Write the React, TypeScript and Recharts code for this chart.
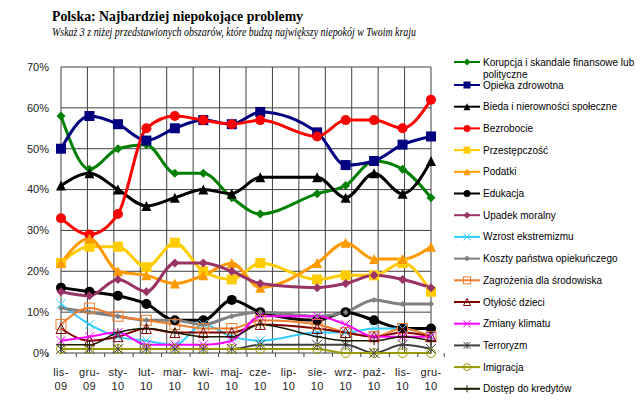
import React from 'react'
import { LineChart, Line, XAxis, YAxis, CartesianGrid, Legend } from 'recharts'

const months = ['lis-09', 'gru-09', 'sty-10', 'lut-10', 'mar-10', 'kwi-10', 'maj-10', 'cze-10', 'lip-10', 'sie-10', 'wrz-10', 'paź-10', 'lis-10', 'gru-10']

const korupcja = [58, 45, 50, 51, 44, 44, 38, 34, null, 39, 41, 47, 45, 38]
const opieka = [50, 58, 56, 52, 55, 57, 56, 59, null, 54, 46, 47, 51, 53]
const bieda = [41, 44, 40, 36, 38, 40, 39, 43, null, 43, 38, 44, 39, 47]
const bezrobocie = [33, 29, 34, 55, 58, 57, 56, 57, null, 53, 57, 57, 55, 62]
const przestepczosc = [22, 26, 26, 21, 27, 20, 18, 22, null, 18, 19, 19, 22, 15]
const podatki = [22, 28, 20, 19, 17, 19, 22, 16, null, 22, 27, 23, 23, 26]
const edukacja = [16, 15, 14, 12, 8, 8, 13, 10, null, 8, 10, 8, 6, 6]
const upadek = [15, 14, 18, 15, 22, 22, 20, 17, null, 16, 17, 19, 18, 16]
const ekstremizm = [12, 7, 4, 3, 2, 7, 4, 3, null, 5, 5, 6, 6, 4]
const koszty = [11, 10, 9, 8, 8, 7, 9, 10, null, 9, 10, 13, 12, 12]
const srodowisko = [7, 11, 9, 8, 7, 6, 6, 8, null, 7, 5, 4, 6, 4]
const otylosc = [6, 3, 4, 6, 5, 5, 5, 7, null, 6, 5, 4, 5, 4]
const klimat = [3, 4, 5, 2, 2, 2, 3, 9, null, 9, 7, 4, 4, 4]
const terroryzm = [1, 1, 1, 1, 1, 1, 1, 2, null, 2, 2, 0, 2, 1]
const imigracja = [1, 1, 1, 1, 1, 1, 1, 1, null, 1, 0, 0, 0, 0]
const kredyty = [2, 2, 5, 6, 5, 4, 4, 7, null, 4, 3, 3, 4, 3]

const yTicks = [0, 10, 20, 30, 40, 50, 60, 70]

const series = [
  { key: 'k1', name: ['Korupcja i skandale finansowe lub', 'polityczne'], values: korupcja, color: '#008000', w: 3, mark: 'diamond', size: 9 },
  { key: 'k2', name: ['Opieka zdrowotna'], values: opieka, color: '#000080', w: 3, mark: 'square', size: 10 },
  { key: 'k3', name: ['Bieda i nierowności społeczne'], values: bieda, color: '#000000', w: 3, mark: 'triangle', size: 10 },
  { key: 'k4', name: ['Bezrobocie'], values: bezrobocie, color: '#ff0000', w: 3, mark: 'circle', size: 10 },
  { key: 'k5', name: ['Przestępczość'], values: przestepczosc, color: '#ffcc00', w: 3, mark: 'square', size: 10 },
  { key: 'k6', name: ['Podatki'], values: podatki, color: '#ff9900', w: 3, mark: 'triangle', size: 10 },
  { key: 'k7', name: ['Edukacja'], values: edukacja, color: '#000000', w: 3, mark: 'circle', size: 10 },
  { key: 'k8', name: ['Upadek moralny'], values: upadek, color: '#993366', w: 3, mark: 'diamond', size: 9 },
  { key: 'k9', name: ['Wzrost ekstremizmu'], values: ekstremizm, color: '#33ccff', w: 2, mark: 'x', size: 9 },
  { key: 'k10', name: ['Koszty państwa opiekuńczego'], values: koszty, color: '#808080', w: 3, mark: 'diamond', size: 6 },
  { key: 'k11', name: ['Zagrożenia dla środowiska'], values: srodowisko, color: '#f07f30', w: 2, mark: 'osquare', size: 10 },
  { key: 'k12', name: ['Otyłość dzieci'], values: otylosc, color: '#800000', w: 2, mark: 'otriangle', size: 10 },
  { key: 'k13', name: ['Zmiany klimatu'], values: klimat, color: '#ff00ff', w: 2, mark: 'x', size: 9 },
  { key: 'k14', name: ['Terroryzm'], values: terroryzm, color: '#404040', w: 2, mark: 'asterisk', size: 10 },
  { key: 'k15', name: ['Imigracja'], values: imigracja, color: '#999900', w: 2, mark: 'ocircle', size: 9 },
  { key: 'k16', name: ['Dostęp do kredytów'], values: kredyty, color: '#1a1a00', w: 1.5, mark: 'plus', size: 9 },
]

const rows = months.map((m, i) => {
  const row: any = { month: m }
  series.forEach(s => { row[s.key] = s.values[i] })
  return row
})

function marker(kind: string, color: string, s: number, cx: number, cy: number) {
  const h = s / 2
  switch (kind) {
    case 'square':
      return <rect x={cx - h} y={cy - h} width={s} height={s} fill={color} />
    case 'osquare':
      return <rect x={cx - h} y={cy - h} width={s} height={s} fill="none" stroke={color} strokeWidth={1} />
    case 'circle':
      return <circle cx={cx} cy={cy} r={h} fill={color} />
    case 'ocircle':
      return <circle cx={cx} cy={cy} r={h} fill="none" stroke={color} strokeWidth={1} />
    case 'diamond':
      return <polygon points={`${cx},${cy - h} ${cx + h},${cy} ${cx},${cy + h} ${cx - h},${cy}`} fill={color} />
    case 'triangle':
      return <polygon points={`${cx},${cy - h} ${cx + h},${cy + h} ${cx - h},${cy + h}`} fill={color} />
    case 'otriangle':
      return <polygon points={`${cx},${cy - h} ${cx + h},${cy + h} ${cx - h},${cy + h}`} fill="none" stroke={color} strokeWidth={1} />
    case 'x':
      return (
        <g stroke={color} strokeWidth={1}>
          <line x1={cx - h} y1={cy - h} x2={cx + h} y2={cy + h} />
          <line x1={cx - h} y1={cy + h} x2={cx + h} y2={cy - h} />
        </g>
      )
    case 'asterisk':
      return (
        <g stroke={color} strokeWidth={1}>
          <line x1={cx - h} y1={cy - h} x2={cx + h} y2={cy + h} />
          <line x1={cx - h} y1={cy + h} x2={cx + h} y2={cy - h} />
          <line x1={cx} y1={cy - h} x2={cx} y2={cy + h} />
        </g>
      )
    case 'plus':
      return (
        <g stroke={color} strokeWidth={1}>
          <line x1={cx - h} y1={cy} x2={cx + h} y2={cy} />
          <line x1={cx} y1={cy - h} x2={cx} y2={cy + h} />
        </g>
      )
    default:
      return <g />
  }
}

const makeDot = (s: any) => (props: any) => {
  const { cx, cy, index } = props
  if (cx == null || cy == null || props.value == null) return <g key={`${s.key}-${index}`} />
  return <g key={`${s.key}-${index}`}>{marker(s.mark, s.color, s.size, cx, cy)}</g>
}

const XTick = (props: any) => {
  const { x, y, payload, index } = props
  const [a, b] = String(payload.value).split('-')
  const step = 370 / months.length
  return (
    <g>
      <line x1={x - step / 2} y1={353} x2={x - step / 2} y2={357} stroke="#404040" />
      {index === months.length - 1 && <line x1={x + step / 2} y1={353} x2={x + step / 2} y2={357} stroke="#404040" />}
      <text x={x} y={y + 15} textAnchor="middle" fontSize={11} fill="#222" fontFamily="Liberation Sans, Arial" letterSpacing={0.3}>{a}-</text>
      <text x={x} y={y + 29} textAnchor="middle" fontSize={11} fill="#222" fontFamily="Liberation Sans, Arial" letterSpacing={0.3}>{b}</text>
    </g>
  )
}

const renderLegend = () => (
  <svg width={640} height={416} style={{ position: 'absolute', left: 0, top: 0 }}>
    {series.map((s, i) => {
      const y = i === 0 ? 62 : 85 + (i - 1) * 21.7
      return (
        <g key={s.key}>
          <line x1={454} y1={y} x2={480} y2={y} stroke={s.color} strokeWidth={2} />
          {marker(s.mark, s.color, Math.min(s.size, 7), 467, y)}
          {s.name.map((t, j) => (
            <text key={j} x={483} y={y + 3.5 + j * 12} fontSize={10} fill="#000" fontFamily="Liberation Sans, Arial">{t}</text>
          ))}
        </g>
      )
    })}
  </svg>
)

export default function App() {
  return (
    <div style={{ position: 'absolute', left: 0, top: 0, width: 640, height: 416, background: '#fff' }}>
      <svg width={640} height={40} style={{ position: 'absolute', left: 0, top: 0 }}>
        <text x={52} y={21} fontFamily="Liberation Serif, Times New Roman" fontWeight="bold" fontSize={14} textLength={251} lengthAdjust="spacingAndGlyphs">
          Polska: Najbardziej niepokojące problemy
        </text>
        <text x={52} y={36} fontFamily="Liberation Serif, Times New Roman" fontStyle="italic" fontSize={12.5} textLength={364} lengthAdjust="spacingAndGlyphs">
          Wskaż 3 z niżej przedstawionych obszarów, które budzą największy niepokój w Twoim kraju
        </text>
      </svg>
      <LineChart width={640} height={416} data={rows} margin={{ top: 67, right: 209, bottom: 23, left: 21 }}>
        <CartesianGrid
          stroke="#404040"
          strokeWidth={1}
          verticalCoordinatesGenerator={({ offset }: any) =>
            months.map((_, i) => offset.left + (i * offset.width) / months.length).concat([offset.left + offset.width])
          }
        />
        <XAxis dataKey="month" height={40} axisLine={false} tickLine={false} interval={0} tick={<XTick />} />
        <YAxis
          width={40}
          domain={[0, 70]}
          ticks={yTicks}
          axisLine={false}
          tickLine={false}
          tickFormatter={(v: number) => `${v}%`}
          tick={{ fontSize: 11, fill: '#222', fontFamily: 'Liberation Sans, Arial', dx: -4 }}
        />
        {series.map(s => (
          <Line
            key={s.key}
            dataKey={s.key}
            type="monotone"
            stroke={s.color}
            strokeWidth={s.w}
            dot={makeDot(s)}
            activeDot={false}
            connectNulls
            isAnimationActive={false}
          />
        ))}
        <Legend layout="vertical" align="center" verticalAlign="middle" content={renderLegend} wrapperStyle={{ left: 0, top: 0, width: 640, height: 416, pointerEvents: 'none' }} />
      </LineChart>
    </div>
  )
}
